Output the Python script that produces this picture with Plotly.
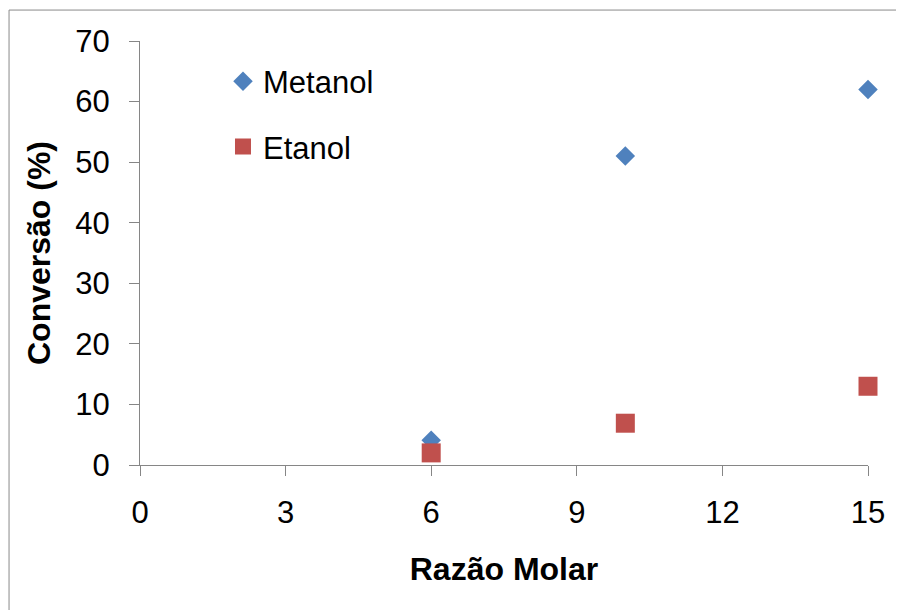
import plotly.graph_objects as go

# razao molar x conversao
razao = [6, 10, 15]
metanol = [4.1, 51, 62]
etanol = [2.0, 6.9, 13]

x_ticks = [0, 3, 6, 9, 12, 15]
y_ticks = [0, 10, 20, 30, 40, 50, 60, 70]

fonte = "Liberation Sans, Arial, sans-serif"

fig = go.Figure()
fig.add_trace(go.Scatter(x=razao, y=metanol, mode="markers", name="Metanol",
                         legendgroup="a", cliponaxis=False,
                         marker=dict(symbol="diamond", size=15, color="#4F81BD")))
fig.add_trace(go.Scatter(x=razao, y=etanol, mode="markers", name="Etanol",
                         legendgroup="b", cliponaxis=False,
                         marker=dict(symbol="square", size=19, color="#C0504D")))

# a pagina tem margem de 8px no body, por isso 896x602
fig.update_layout(
    width=896, height=602,
    margin=dict(l=132, r=36, t=33, b=145),
    paper_bgcolor="white", plot_bgcolor="white",
    font=dict(family=fonte, size=31, color="black"),
    showlegend=True,
    legend=dict(x=0.114, y=0.968, xanchor="left", yanchor="top",
                bgcolor="rgba(0,0,0,0)", font=dict(size=31),
                traceorder="grouped", tracegroupgap=22, itemwidth=30),
)
fig.update_xaxes(range=[0, 15], tickvals=x_ticks, showgrid=False, zeroline=False,
                 showline=True, linecolor="#868686", linewidth=1,
                 ticks="outside", ticklen=10, tickcolor="#868686",
                 ticklabelstandoff=10,
                 title=dict(text="<b>Razão Molar</b>", font=dict(size=32), standoff=28))
fig.update_yaxes(range=[0, 70], tickvals=y_ticks, showgrid=False, zeroline=False,
                 showline=True, linecolor="#868686", linewidth=1,
                 ticks="outside", ticklen=10, tickcolor="#868686",
                 ticklabelstandoff=13,
                 title=dict(text="<b>Conversão (%)</b>", font=dict(size=32), standoff=15))

# moldura do grafico
fig.add_shape(type="rect", xref="paper", yref="paper",
              x0=-0.1799, x1=1.2, y0=-0.6, y1=1.073,
              line=dict(color="#898989", width=1), fillcolor="rgba(0,0,0,0)", layer="below")

fig.write_html("out.html")
